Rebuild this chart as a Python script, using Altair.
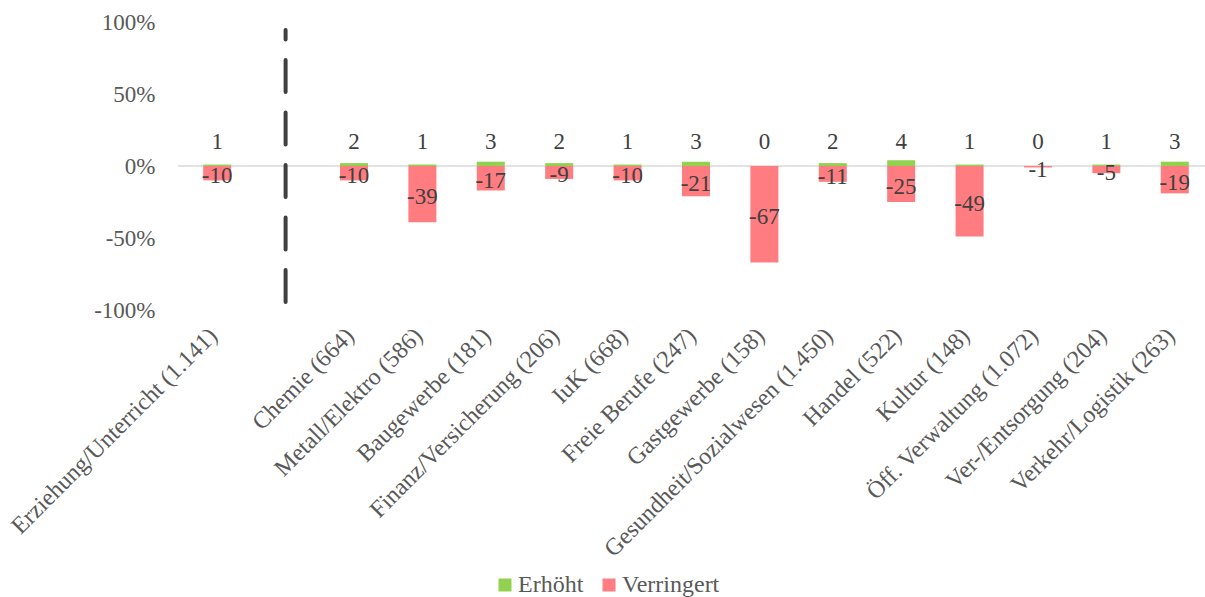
import json
import altair as alt
import pandas as pd

categories = [
    "Erziehung/Unterricht (1.141)", "", "Chemie (664)", "Metall/Elektro (586)",
    "Baugewerbe (181)", "Finanz/Versicherung (206)", "IuK (668)", "Freie Berufe (247)",
    "Gastgewerbe (158)", "Gesundheit/Sozialwesen (1.450)", "Handel (522)", "Kultur (148)",
    "Öff. Verwaltung (1.072)", "Ver-/Entsorgung (204)", "Verkehr/Logistik (263)",
]
erhoeht = [1, None, 2, 1, 3, 2, 1, 3, 0, 2, 4, 1, 0, 1, 3]
verringert = [-10, None, -10, -39, -17, -9, -10, -21, -67, -11, -25, -49, -1, -5, -19]
series = ["Erhöht", "Verringert"]
colors = ["#92D050", "#FF7C80"]
y_ticks = [-100, -50, 0, 50, 100]
gap_index = 1
divider_range = [-94.4, 94.4]

FONT = "Liberation Serif"
FS = 23
W, H = 1027, 288
STEP = 69.07

rows = []
for i, c in enumerate(categories):
    if c == "":
        continue
    rows.append({"idx": i, "cat": c, "series": series[0], "value": erhoeht[i]})
    rows.append({"idx": i, "cat": c, "series": series[1], "value": verringert[i]})
df = pd.DataFrame(rows)
df["label"] = df["value"].astype(int).astype(str)
df["mid"] = df["value"] / 2.0

xscale = alt.Scale(domain=[-0.5, -0.5 + W / STEP], nice=False, zero=False)
yscale = alt.Scale(domain=[-100, 100], nice=False)

label_arr = json.dumps(categories, ensure_ascii=False)
xaxis = alt.Axis(
    values=[i for i, c in enumerate(categories) if c != ""],
    labelExpr=f"{label_arr}[datum.value]",
    labelAngle=-45, labelAlign="right", labelBaseline="middle",
    labelPadding=22, labelOffset=-4, ticks=False, domain=False, grid=False,
    labelFont=FONT, labelFontSize=24, labelColor="#595959",
    labelOverlap=False, labelLimit=0, title=None,
)
yaxis = alt.Axis(
    values=y_ticks, labelExpr="datum.value + '%'", grid=False, domain=False,
    ticks=False, labelPadding=23, labelFont=FONT, labelFontSize=FS,
    labelColor="#595959", title=None,
)

zero = alt.Chart(pd.DataFrame({"y": [0]})).mark_rule(
    color="#D9D9D9", strokeWidth=1.7
).encode(y=alt.Y("y:Q", scale=yscale, axis=yaxis), x=alt.value(0), x2=alt.value(W))

bars = alt.Chart(df).mark_bar(size=28).encode(
    x=alt.X("idx:Q", scale=xscale, axis=xaxis),
    y=alt.Y("value:Q", scale=yscale, stack=None),
    color=alt.Color(
        "series:N",
        scale=alt.Scale(domain=series, range=colors),
        legend=alt.Legend(
            title=None, orient="none", legendX=315, legendY=551, direction="horizontal",
            symbolType="square", symbolSize=169, symbolStrokeWidth=0,
            labelFont=FONT, labelFontSize=24, labelColor="#595959",
            columnPadding=13, labelOffset=1, padding=0,
        ),
    ),
)

divider = alt.Chart(
    pd.DataFrame({"idx": [gap_index], "y1": [divider_range[0]], "y2": [divider_range[1]]})
).mark_rule(strokeDash=[32, 20.5], strokeWidth=4, color="#404040", strokeCap="round").encode(
    x=alt.X("idx:Q", scale=xscale), y=alt.Y("y1:Q", scale=yscale), y2="y2:Q"
)

up_labels = alt.Chart(df[df["series"] == series[0]]).mark_text(
    font=FONT, fontSize=FS, color="#404040", baseline="middle"
).encode(x=alt.X("idx:Q", scale=xscale), y=alt.datum(17), text="label:N")

down_labels = alt.Chart(df[df["series"] == series[1]]).mark_text(
    font=FONT, fontSize=FS, color="#404040", baseline="middle", dy=3
).encode(x=alt.X("idx:Q", scale=xscale), y=alt.Y("mid:Q", scale=yscale), text="label:N")

chart = alt.layer(zero, bars, divider, up_labels, down_labels).properties(
    width=W, height=H,
    autosize=alt.AutoSizeParams(type="none"),
    padding={"left": 178, "top": 22, "right": 0, "bottom": 287},
).configure_view(stroke=None)

chart.save("out.html", embed_options={"renderer": "svg", "actions": False})
